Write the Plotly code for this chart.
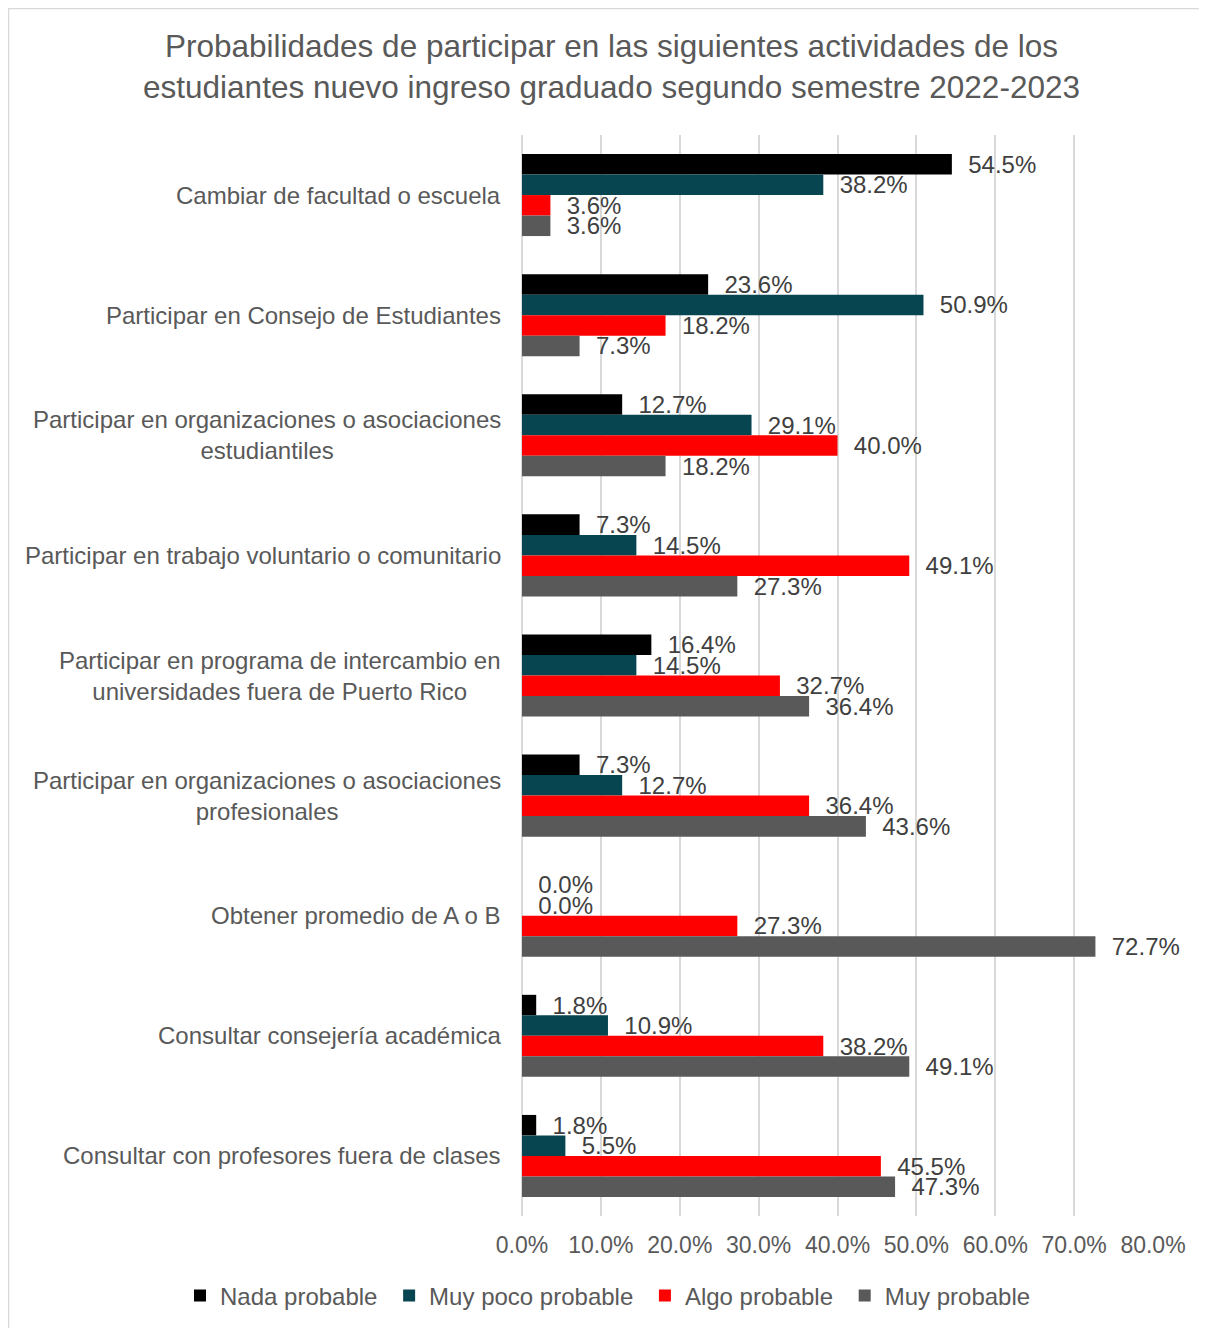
import plotly.graph_objects as go

categories = [
    "Cambiar de facultad o escuela",
    "Participar en Consejo de Estudiantes",
    "Participar en organizaciones o asociaciones<br>estudiantiles",
    "Participar en trabajo voluntario o comunitario",
    "Participar en programa de intercambio en<br>universidades fuera de Puerto Rico",
    "Participar en organizaciones o asociaciones<br>profesionales",
    "Obtener promedio de A o B",
    "Consultar consejería académica",
    "Consultar con profesores fuera de clases",
]

series_names = ["Nada probable", "Muy poco probable", "Algo probable", "Muy probable"]
nada = [54.5, 23.6, 12.7, 7.3, 16.4, 7.3, 0.0, 1.8, 1.8]
muy_poco = [38.2, 50.9, 29.1, 14.5, 14.5, 12.7, 0.0, 10.9, 5.5]
algo = [3.6, 18.2, 40.0, 49.1, 32.7, 36.4, 27.3, 38.2, 45.5]
muy = [3.6, 7.3, 18.2, 27.3, 36.4, 43.6, 72.7, 49.1, 47.3]
series_values = [nada, muy_poco, algo, muy]
colors = ["#000000", "#074650", "#FF0000", "#595959"]

x_ticks = [0, 10, 20, 30, 40, 50, 60, 70, 80]
x_ticktext = [f"{v:.1f}%" for v in x_ticks]

FONT = "Liberation Sans, Arial, sans-serif"

fig = go.Figure()
for name, vals, col in zip(series_names, series_values, colors):
    fig.add_trace(go.Bar(
        y=categories, x=vals, name=name + "\u00a0", orientation="h",
        marker=dict(color=col, line=dict(width=0)),
        texttemplate="  %{x:.1f}%", textposition="outside",
        constraintext="none", cliponaxis=False,
        textfont=dict(family=FONT, size=24, color="#404040"),
    ))

for c in categories:
    fig.add_annotation(
        x=0, xref="paper", y=c, yref="y", text=c, showarrow=False,
        xanchor="right", yanchor="middle", align="center", xshift=-19,
        font=dict(family=FONT, size=24, color="#595959"),
    )

# chart border
fig.add_shape(type="rect", xref="paper", yref="paper",
              x0=-0.8138, x1=1.12, y0=-0.13, y1=1.117,
              line=dict(color="#d9d9d9", width=1.5), layer="below")

fig.update_layout(
    width=1207, height=1328,
    paper_bgcolor="white", plot_bgcolor="white",
    margin=dict(l=514, r=62, t=127, b=120),
    barmode="group", bargap=0.317, bargroupgap=0,
    font=dict(family=FONT, color="#595959"),
    title=dict(
        text="Probabilidades de participar en las siguientes actividades de los<br>estudiantes nuevo ingreso graduado segundo semestre 2022-2023",
        xref="container", x=0.5, xanchor="center",
        yref="container", y=0.963, yanchor="top",
        font=dict(family=FONT, size=31.5, color="#595959"),
    ),
    xaxis=dict(
        range=[0, 80], tickmode="array", tickvals=x_ticks, ticktext=x_ticktext,
        showgrid=True, gridcolor="#d9d9d9", gridwidth=2,
        zeroline=True, zerolinecolor="#d9d9d9", zerolinewidth=2,
        showline=False, ticks="", ticklabelstandoff=13,
        tickfont=dict(family=FONT, size=23, color="#595959"),
    ),
    yaxis=dict(
        autorange="reversed", showticklabels=False, showgrid=False,
        zeroline=False, showline=False, ticks="",
    ),
    legend=dict(
        orientation="h", xref="paper", x=-0.542, xanchor="left",
        yref="paper", y=-0.074, yanchor="middle",
        font=dict(family=FONT, size=24, color="#595959"),
        itemwidth=30, traceorder="normal",
    ),
)

fig.write_html("out.html")
